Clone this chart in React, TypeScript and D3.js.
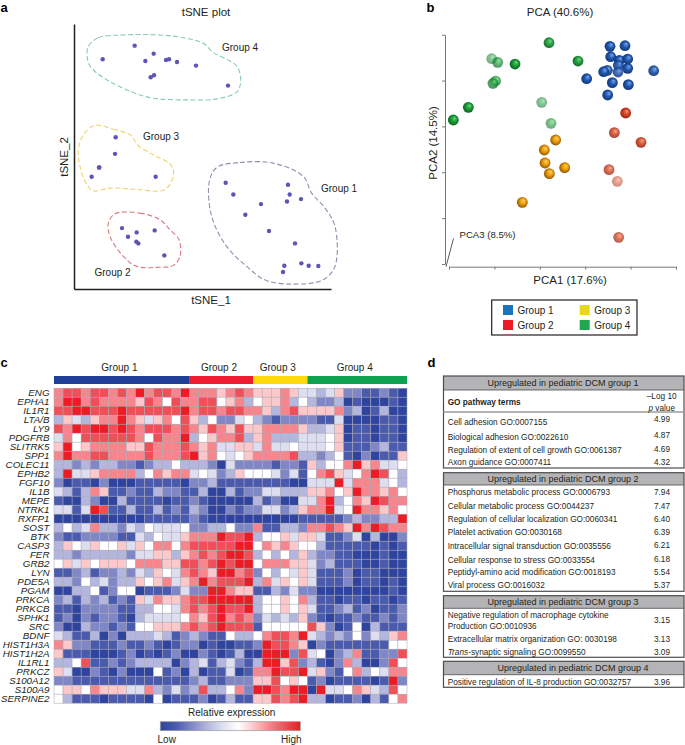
import React, { useEffect, useRef } from 'react'
import * as d3 from 'd3'

const FONT = '"Liberation Sans", Arial, sans-serif'
const INK = '#231f20'

/** tSNE samples, [tSNE_1, tSNE_2] */
const tsneGroup1 = [[45.5, 31.9], [47.8, 28.4], [51.4, 22.3], [56.1, 25.5], [58.5, 17.4], [64.2, 31.3], [64.7, 28.4], [63.9, 26.3], [68.1, 27.0], [66.3, 13.7], [63.1, 7.0], [62.7, 5.1], [68.2, 7.7], [70.4, 7.0], [73.3, 6.9]]
const tsneGroup2 = [[14.4, 18.3], [16.2, 15.7], [18.8, 17.0], [24.2, 17.6], [18.7, 14.2], [19.3, 13.7], [27.1, 10.1]]
const tsneGroup3 = [[12.5, 45.6], [12.3, 40.6], [7.5, 36.5], [7.6, 36.5], [5.3, 33.7], [24.5, 33.7]]
const tsneGroup4 = [[8.6, 69.0], [18.2, 73.1], [21.4, 68.5], [23.9, 70.7], [27.6, 68.8], [28.5, 69.0], [30.9, 68.2], [36.6, 67.1], [23.0, 63.6], [24.0, 64.2], [46.2, 61.1]]

/** Dashed outlines drawn round the tSNE clusters */
const hullGroup1 = [[42.8, 36.5], [49.8, 38.0], [59.8, 37.8], [68.8, 33.8], [71.3, 28.8], [75.3, 24.3], [78.3, 18.8], [78.3, 6.8], [74.8, 2.8], [67.8, 1.5], [57.8, 2.5], [51.8, 6.8], [45.8, 12.8], [41.3, 21.8], [40.6, 32.3]]
const hullGroup2 = [[12.3, 22.6], [19.8, 22.8], [25.8, 20.8], [28.8, 17.8], [31.5, 14.8], [31.8, 9.8], [29.8, 7.1], [24.8, 6.5], [18.8, 6.8], [14.8, 9.8], [10.8, 15.8], [10.3, 19.8]]
const hullGroup3 = [[6.1, 49.1], [11.8, 48.0], [17.3, 46.0], [19.0, 43.3], [24.8, 39.8], [29.1, 37.3], [29.8, 33.8], [27.1, 29.8], [17.8, 30.0], [10.8, 30.3], [5.8, 29.5], [3.6, 31.8], [1.8, 36.8], [1.3, 41.8], [2.8, 46.3]]
const hullGroup4 = [[4.3, 72.8], [7.3, 75.5], [14.8, 76.3], [25.8, 76.3], [33.8, 75.3], [38.8, 73.8], [41.8, 71.0], [46.8, 68.5], [49.1, 66.6], [50.0, 62.8], [49.0, 59.3], [42.8, 57.1], [33.8, 56.8], [23.8, 57.3], [17.8, 59.0], [10.8, 62.3], [5.3, 66.3], [4.0, 69.3]]

const hulls = [hullGroup1, hullGroup2, hullGroup3, hullGroup4]
const hullColors = ['#8b90b3', '#da7a80', '#efd26c', '#86cbb4']

/** PCA samples, [PCA1, PCA2, depth along PCA3] */
const pcaGroup1 = [[48.3, 65.3, 0], [52.8, 65.5, 0], [48.5, 62.2, 0], [51.1, 61.1, 0], [53.6, 61.5, 0], [50.8, 59.6, 0.1], [53.6, 58.7, 0], [47.5, 58.1, 0.1], [46.4, 57.7, 0], [50.7, 57.6, 0.2], [61.4, 58.0, 0.1], [41.3, 55.6, 0], [49.0, 54.4, 0], [53.8, 53.8, 0], [47.6, 50.7, 0]]
const pcaGroup2 = [[53.0, 45.3, 0], [49.6, 39.4, 0.2], [57.6, 36.5, 0.15], [48.0, 28.3, 0.3], [50.5, 24.8, 0.65], [50.9, 8.0, 0.35]]
const pcaGroup3 = [[32.0, 37.2, 0], [28.6, 34.2, 0], [28.8, 30.3, 0], [30.1, 27.1, 0], [34.7, 28.9, 0], [22.0, 18.5, 0]]
const pcaGroup4 = [[30.0, 66.4, 0.1], [12.8, 61.6, 0.6], [14.6, 60.5, 0.4], [19.8, 60.0, 0], [38.7, 60.9, 0.05], [14.0, 54.9, 0.4], [13.2, 54.2, 0.35], [27.8, 48.5, 0.6], [5.8, 47.0, 0], [1.3, 43.2, 0], [30.6, 42.2, 0.55]]

const pcaSeries = [
    { id: 'blue', points: pcaGroup1, light: '#7ea6e8', base: '#1d55ad', dark: '#123471' },
    { id: 'red', points: pcaGroup2, light: '#f09a7c', base: '#d23f1e', dark: '#8c2410' },
    { id: 'orange', points: pcaGroup3, light: '#ffd467', base: '#ee9a06', dark: '#7a4d05' },
    { id: 'green', points: pcaGroup4, light: '#6fd07f', base: '#169a35', dark: '#0c5c20' }
]

const legendLabels = ['Group 1', 'Group 2', 'Group 3', 'Group 4']
const legendColors = ['#1b75bb', '#ed1c24', '#e8d81c', '#1fa84f']

const genes = [
    'ENG', 'EPHA1', 'IL1R1', 'LTA/B', 'LY9', 'PDGFRB', 'SLITRK5', 'SPP1', 'COLEC11', 'EPHB2', 'FGF10', 'IL1B',
    'MEPE', 'NTRK1', 'RXFP1', 'SOST', 'BTK', 'CASP3', 'FER', 'GRB2', 'LYN', 'PDE5A', 'PGAM', 'PRKCA', 'PRKCB',
    'SPHK1', 'SRC', 'BDNF', 'HIST1H3A', 'HIST1H2A', 'IL1RL1', 'PRKCZ', 'S100A12', 'S100A9', 'SERPINE2'
]

/** Relative expression per gene, one digit per sample: 0 lowest, 5 middle, 9 highest */
const expression = [
    '788788787978879' + '7776787' + '666764' + '43462211210',
    '799787777687587' + '7885673' + '566735' + '32230100010',
    '889988898888889' + '7887887' + '763786' + '66672301300',
    '364367797646758' + '6352245' + '321222' + '21140000110',
    '879899898788878' + '7687686' + '677776' + '33460110110',
    '475888888758779' + '3567783' + '673334' + '44560110110',
    '695677776687778' + '7674466' + '474454' + '44561112311',
    '797788777787778' + '9675456' + '777783' + '32351020116',
    '332323322123353' + '3320422' + '221221' + '63557967445',
    '394467777357677' + '4542365' + '554241' + '57864579853',
    '201102000111110' + '2231111' + '111100' + '44494777453',
    '431376112113221' + '1300312' + '244333' + '66756977675',
    '100320031111011' + '2100000' + '312004' + '47935769877',
    '441498113113121' + '3200212' + '244236' + '77945977675',
    '000000000011111' + '2100000' + '000001' + '11112322339',
    '353473324354445' + '2233522' + '711332' + '77876979877',
    '211222211435446' + '7779889' + '355646' + '64112403002',
    '365465564657757' + '8888899' + '576765' + '53111110101',
    '332333332446636' + '7878998' + '353536' + '32211000100',
    '564656665777668' + '8789899' + '577766' + '42311100100',
    '112312232436547' + '8769978' + '253546' + '41112011000',
    '332534233656746' + '7978889' + '374656' + '41112011010',
    '003351255011124' + '2299766' + '113242' + '20000000010',
    '231323121647667' + '8899999' + '355657' + '31101101101',
    '110222211335547' + '8789889' + '355656' + '41123120112',
    '120212210344445' + '7689787' + '243436' + '21011211212',
    '200322121556667' + '8789888' + '155555' + '86201503111',
    '431130203334312' + '3211533' + '578879' + '43232524367',
    '762211121121012' + '2010011' + '298876' + '02111111155',
    '611100012010120' + '0210130' + '099928' + '45023711228',
    '335811212333302' + '3413421' + '399682' + '31027300285',
    '640021020005120' + '3011401' + '779889' + '46215735477',
    '221111111111111' + '2311222' + '668565' + '12011110192',
    '566576664473242' + '3833572' + '998799' + '09445764385',
    '531110111105011' + '1201311' + '668789' + '33011203157'
]

const groupSizes = [15, 7, 6, 11]
const groupColors = ['#1f3f96', '#ed1c2e', '#fdd80b', '#0ea14f']

/** GO enrichment tables */
const goTitles = ['Upregulated in pediatric DCM group 1', 'Upregulated in pediatric DCM group 2', 'Upregulated in pediatric DCM group 3', 'Upregulated in pediatric DCM group 4']
const goTerms1 = ['Cell adhesion GO:0007155', 'Biological adhesion GO:0022610', 'Regulation of extent of cell growth GO:0061387', 'Axon guidance GO:0007411']
const goValues1 = ['4.99', '4.87', '4.69', '4.32']
const goTerms2 = ['Phosphorus metabolic process GO:0006793', 'Cellular metabolic process GO:0044237', 'Regulation of cellular localization GO:0060341', 'Platelet activation GO:0030168', 'Intracellular signal transduction GO:0035556', 'Cellular response to stress GO:0033554', 'Peptidyl-amino acid modification GO:0018193', 'Viral process GO:0016032']
const goValues2 = ['7.94', '7.47', '6.40', '6.39', '6.21', '6.18', '5.54', '5.37']
const goTerms3 = ['Negative regulation of macrophage cytokine', 'Production GO:0010936', 'Extracellular matrix organization GO: 0030198', 'Trans-synaptic signaling GO:0099550']
const goValues3 = ['3.15', '', '3.13', '3.09']
const goTerms4 = ['Positive regulation of IL-8 production GO:0032757']
const goValues4 = ['3.96']

/** Table layout */
const tableBoxes = [
    { top: 376, head: 390, bottom: 468, titleX: 563, terms: goTerms1, values: goValues1, termY: [422, 437.3, 450, 462.3], valueY: [419.3, 435, 449, 462.3] },
    { top: 472.7, head: 485, bottom: 591.3, titleX: 563, terms: goTerms2, values: goValues2, termY: [492.7, 506, 519, 532, 546, 560.3, 572.3, 585.3], valueY: [492.7, 506, 519, 532, 545.3, 559, 572.3, 585.3] },
    { top: 595.7, head: 608.3, bottom: 657.3, titleX: 563, terms: goTerms3, values: goValues3, termY: [615.7, 626.7, 639.3, 652], valueY: [620.7, 0, 639.3, 652] },
    { top: 661.3, head: 674.7, bottom: 687.3, titleX: 573, terms: goTerms4, values: goValues4, termY: [682], valueY: [682] }
]

const expressionColor = d3.scaleLinear<string>()
    .domain([0, 1, 2, 3, 4, 5, 6, 7, 8, 9])
    .range(['#2e449f', '#4a5bae', '#7f87c6', '#b3b6dd', '#dddef0', '#ffffff', '#fcc8ca', '#f6868c', '#ef4f57', '#ec1c24'])

/**
 * Draws an axis through d3 into a g element
 */
const Axis = ({ axis, transform, color, width }: { axis: any, transform?: string, color: string, width: number }) => {
    const ref = useRef<SVGGElement>(null)

    useEffect(() => {
        const g = d3.select(ref.current)
        g.call(axis)
        g.selectAll('path, line').attr('stroke', color).attr('stroke-width', width)
    }, [axis, color, width])

    return <g ref={ref} transform={transform} />
}

const Label = ({ x, y, size = 10, children, anchor = 'middle', ...rest }: any) => (
    <text x={x} y={y} fontSize={size} textAnchor={anchor} dominantBaseline="central" fill={INK} {...rest}>
        {children}
    </text>
)

/** Panel a */
const TsnePanel = () => {
    const x = d3.scaleLinear().domain([0, 77.1]).range([74, 331])
    const y = d3.scaleLinear().domain([0, 79.6]).range([289, 24])
    const hullLine = d3.line().x((d) => x(d[0])).y((d) => y(d[1])).curve(d3.curveCatmullRomClosed.alpha(0.5))
    const samples = [...tsneGroup1, ...tsneGroup2, ...tsneGroup3, ...tsneGroup4]

    return (
        <g>
            <Axis axis={d3.axisBottom(x).tickValues([]).tickSizeOuter(0)} transform="translate(0, 289)" color={INK} width={1.5} />
            <Axis axis={d3.axisLeft(y).tickValues([]).tickSizeOuter(0)} transform="translate(74, 0)" color={INK} width={1.5} />
            {hulls.map((hull, i) => (
                <path key={i} d={hullLine(hull as any)} fill="none" stroke={hullColors[i]} strokeWidth={1.1} strokeDasharray="5 2.5" />
            ))}
            {samples.map((d, i) => (
                <circle key={i} cx={x(d[0])} cy={y(d[1])} r={2.2} fill="#5c55b6" />
            ))}
            <Label x={206} y={12} size={11.5}>tSNE plot</Label>
            <Label x={211} y={300} size={11.5}>tSNE_1</Label>
            <Label x={0} y={0} size={11.5} transform="translate(64, 157) rotate(-90)">tSNE_2</Label>
            <Label x={222} y={47} anchor="start">Group 4</Label>
            <Label x={143} y={136.5} anchor="start">Group 3</Label>
            <Label x={321} y={188} anchor="start">Group 1</Label>
            <Label x={94.5} y={272.5} anchor="start">Group 2</Label>
        </g>
    )
}

/** Panel b */
const PcaPanel = () => {
    const x = d3.scaleLinear().domain([0, 68.1]).range([449, 676])
    const y = d3.scaleLinear().domain([0, 68.8]).range([264, 34.7])
    const depthOpacity = d3.scaleLinear().domain([0, 1]).range([1, 0.25])
    const xAxis = d3.axisBottom(x).tickValues(d3.range(0, 69, 13.62)).tickFormat(() => '').tickSize(3).tickSizeOuter(0)
    const yAxis = d3.axisLeft(y).tickValues(d3.range(0, 69, 13.76)).tickFormat(() => '').tickSize(3).tickSizeOuter(0)

    return (
        <g>
            <defs>
                {pcaSeries.map((s) => (
                    <radialGradient key={s.id} id={`sphere-${s.id}`} cx="0.5" cy="0.5" r="0.55" fx="0.64" fy="0.32">
                        <stop offset="0" stopColor={s.light} />
                        <stop offset="0.5" stopColor={s.base} />
                        <stop offset="1" stopColor={s.dark} />
                    </radialGradient>
                ))}
            </defs>
            <Axis axis={xAxis} transform="translate(0, 266.7)" color="#77787b" width={1} />
            <Axis axis={yAxis} transform="translate(445, 0)" color="#77787b" width={1} />
            <line x1={446} y1={266.7} x2={453.5} y2={238.5} stroke="#58595b" strokeWidth={1} />
            {pcaSeries.map((s) => s.points.map((d, i) => (
                <circle
                    key={`${s.id}-${i}`}
                    cx={x(d[0])}
                    cy={y(d[1])}
                    r={5.4}
                    fill={`url(#sphere-${s.id})`}
                    opacity={depthOpacity(d[2])}
                />
            )))}
            <Label x={560} y={12} size={11.5}>PCA (40.6%)</Label>
            <Label x={570} y={280} size={11.5}>PCA1 (17.6%)</Label>
            <Label x={0} y={0} size={11.5} transform="translate(433, 143) rotate(-90)">PCA2 (14.5%)</Label>
            <Label x={459.5} y={234.5} size={9.6} anchor="start">PCA3 (8.5%)</Label>
            <rect x={491.7} y={300} width={145.3} height={35} fill="none" stroke={INK} strokeWidth={1.2} />
            {legendLabels.map((label, i) => {
                const left = i < 2 ? 503 : 579.7
                const top = i % 2 === 0 ? 305 : 320
                return (
                    <g key={label}>
                        <rect x={left} y={top} width={10} height={10} fill={legendColors[i]} />
                        <Label x={left + 14.5} y={top + 5.3} anchor="start">{label}</Label>
                    </g>
                )
            })}
        </g>
    )
}

/** Panel c */
const HeatmapPanel = () => {
    const sampleCount = d3.sum(groupSizes)
    const x = d3.scaleBand<number>().domain(d3.range(sampleCount)).range([54, 407])
    const y = d3.scaleBand<string>().domain(genes).range([388.2, 703.2])
    const groupStarts = d3.cumsum([0, ...groupSizes])
    const barStops = d3.range(0, 9.01, 1)

    return (
        <g>
            <defs>
                <linearGradient id="expression-bar">
                    {barStops.map((v) => (
                        <stop key={v} offset={v / 9} stopColor={expressionColor(v)} />
                    ))}
                </linearGradient>
            </defs>
            {groupSizes.map((size, i) => {
                const left = x(groupStarts[i]) as number
                return (
                    <g key={i}>
                        <rect x={left} y={376} width={size * x.step()} height={8} fill={groupColors[i]} />
                        <Label x={left + size * x.step() / 2 - 2.5} y={367}>{legendLabels[i]}</Label>
                    </g>
                )
            })}
            {genes.map((gene, row) => (
                <g key={gene}>
                    <Label
                        x={49.5}
                        y={(y(gene) as number) + y.bandwidth() / 2}
                        size={9.8}
                        anchor="end"
                        fontStyle="italic"
                    >
                        {gene}
                    </Label>
                    {Array.from(expression[row]).map((code, col) => (
                        <rect
                            key={col}
                            x={x(col)}
                            y={y(gene)}
                            width={x.bandwidth()}
                            height={y.bandwidth()}
                            fill={expressionColor(+code)}
                            stroke="#a9a7b6"
                            strokeWidth={0.5}
                        />
                    ))}
                </g>
            ))}
            <Label x={231.7} y={712.7}>Relative expression</Label>
            <rect x={160.3} y={721.7} width={140} height={9} fill="url(#expression-bar)" stroke="#9a9a9a" strokeWidth={0.7} />
            <Label x={166.7} y={739.3}>Low</Label>
            <Label x={291.3} y={739.3}>High</Label>
        </g>
    )
}

/** Panel d */
const GoTablePanel = () => (
    <g>
        {tableBoxes.map((box, i) => (
            <g key={i}>
                <rect x={443.5} y={box.top} width={240.5} height={box.head - box.top} fill="#b4b4b6" />
                <rect x={443.5} y={box.top} width={240.5} height={box.bottom - box.top} fill="none" stroke="#4d4d4f" strokeWidth={1.2} />
                <line x1={443.5} x2={684} y1={box.head} y2={box.head} stroke="#4d4d4f" strokeWidth={0.8} />
                <Label x={box.titleX} y={(box.top + box.head) / 2 + 0.3} size={9}>{goTitles[i]}</Label>
                {box.terms.map((term, j) => (
                    <Label key={term} x={447.7} y={box.termY[j]} size={8.25} anchor="start">
                        {term.startsWith('Trans-') ? <><tspan fontStyle="italic">Trans</tspan>{term.slice(5)}</> : term}
                    </Label>
                ))}
                {box.values.map((value, j) => value && (
                    <Label key={j} x={662} y={box.valueY[j]} size={8.25}>{value}</Label>
                ))}
            </g>
        ))}
        <line x1={443.5} x2={684} y1={412} y2={412} stroke="#9b9b9d" strokeWidth={1.5} />
        <Label x={447.7} y={402.5} size={8.25} anchor="start" fontWeight="bold">GO pathway terms</Label>
        <Label x={661.7} y={396} size={8.25}>–Log 10</Label>
        <Label x={661.7} y={408} size={8.25}><tspan fontStyle="italic">p</tspan> value</Label>
    </g>
)

export default function App () {
    return (
        <svg
            width={685}
            height={745}
            fontFamily={FONT}
            style={{ position: 'absolute', left: 0, top: 0, background: '#fff' }}
        >
            <TsnePanel />
            <PcaPanel />
            <HeatmapPanel />
            <GoTablePanel />
            <text x={0.5} y={12} fontSize={13} fontWeight="bold" fill="#000">a</text>
            <text x={426.5} y={12} fontSize={13} fontWeight="bold" fill="#000">b</text>
            <text x={0.5} y={367} fontSize={13} fontWeight="bold" fill="#000">c</text>
            <text x={427.5} y={367} fontSize={13} fontWeight="bold" fill="#000">d</text>
        </svg>
    )
}
